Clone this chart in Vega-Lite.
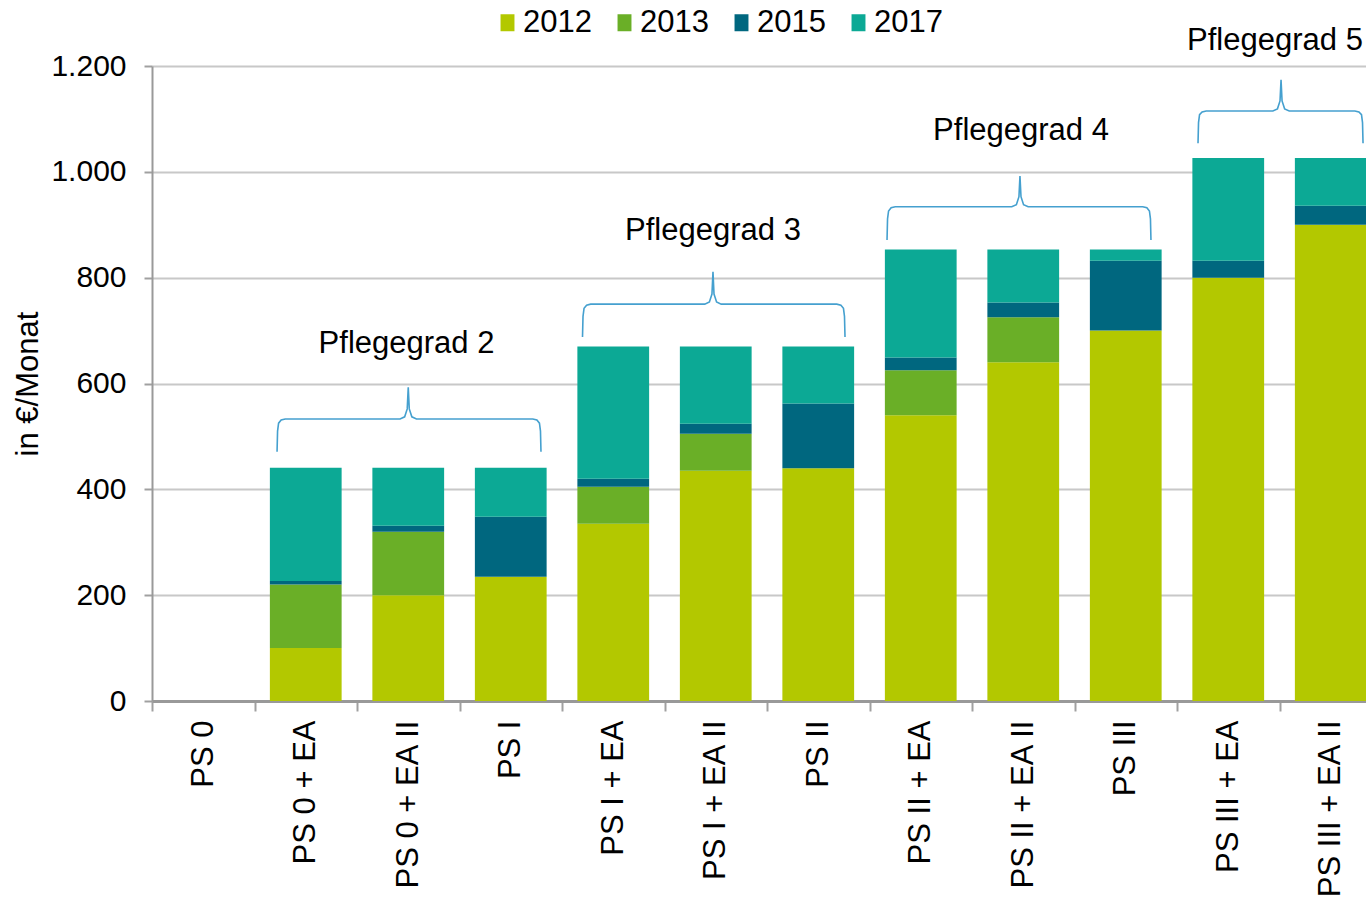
{
  "$schema": "https://vega.github.io/schema/vega-lite/v6.json",
  "width": 1214,
  "height": 635,
  "autosize": {"type": "none"},
  "padding": {"left": 152, "top": 66, "right": 0, "bottom": 196},
  "background": "white",
  "config": {"font": "Liberation Sans", "view": {"stroke": null}},
  "datasets": {
    "bars": [
      {"cat": "PS 0", "year": "2012", "value": 0}, {"cat": "PS 0", "year": "2013", "value": 0}, {"cat": "PS 0", "year": "2015", "value": 0}, {"cat": "PS 0", "year": "2017", "value": 0},
      {"cat": "PS 0 + EA", "year": "2012", "value": 100}, {"cat": "PS 0 + EA", "year": "2013", "value": 120}, {"cat": "PS 0 + EA", "year": "2015", "value": 7}, {"cat": "PS 0 + EA", "year": "2017", "value": 214},
      {"cat": "PS 0 + EA II", "year": "2012", "value": 200}, {"cat": "PS 0 + EA II", "year": "2013", "value": 120}, {"cat": "PS 0 + EA II", "year": "2015", "value": 11}, {"cat": "PS 0 + EA II", "year": "2017", "value": 110},
      {"cat": "PS I", "year": "2012", "value": 235}, {"cat": "PS I", "year": "2013", "value": 0}, {"cat": "PS I", "year": "2015", "value": 113}, {"cat": "PS I", "year": "2017", "value": 93},
      {"cat": "PS I + EA", "year": "2012", "value": 335}, {"cat": "PS I + EA", "year": "2013", "value": 70}, {"cat": "PS I + EA", "year": "2015", "value": 15}, {"cat": "PS I + EA", "year": "2017", "value": 250},
      {"cat": "PS I + EA II", "year": "2012", "value": 435}, {"cat": "PS I + EA II", "year": "2013", "value": 70}, {"cat": "PS I + EA II", "year": "2015", "value": 19}, {"cat": "PS I + EA II", "year": "2017", "value": 146},
      {"cat": "PS II", "year": "2012", "value": 440}, {"cat": "PS II", "year": "2013", "value": 0}, {"cat": "PS II", "year": "2015", "value": 122}, {"cat": "PS II", "year": "2017", "value": 108},
      {"cat": "PS II + EA", "year": "2012", "value": 540}, {"cat": "PS II + EA", "year": "2013", "value": 85}, {"cat": "PS II + EA", "year": "2015", "value": 24}, {"cat": "PS II + EA", "year": "2017", "value": 204},
      {"cat": "PS II + EA II", "year": "2012", "value": 640}, {"cat": "PS II + EA II", "year": "2013", "value": 85}, {"cat": "PS II + EA II", "year": "2015", "value": 28}, {"cat": "PS II + EA II", "year": "2017", "value": 100},
      {"cat": "PS III", "year": "2012", "value": 700}, {"cat": "PS III", "year": "2013", "value": 0}, {"cat": "PS III", "year": "2015", "value": 132}, {"cat": "PS III", "year": "2017", "value": 21},
      {"cat": "PS III + EA", "year": "2012", "value": 800}, {"cat": "PS III + EA", "year": "2013", "value": 0}, {"cat": "PS III + EA", "year": "2015", "value": 32}, {"cat": "PS III + EA", "year": "2017", "value": 194},
      {"cat": "PS III + EA II", "year": "2012", "value": 900}, {"cat": "PS III + EA II", "year": "2013", "value": 0}, {"cat": "PS III + EA II", "year": "2015", "value": 36}, {"cat": "PS III + EA II", "year": "2017", "value": 90}
    ],
    "braces": [
      {"g": 2, "i": 1, "x": 1.22, "value": 471}, {"g": 2, "i": 2, "x": 1.225, "value": 510}, {"g": 2, "i": 3, "x": 1.235, "value": 525}, {"g": 2, "i": 4, "x": 1.26, "value": 531}, {"g": 2, "i": 5, "x": 1.3, "value": 533}, {"g": 2, "i": 6, "x": 2.42, "value": 533}, {"g": 2, "i": 7, "x": 2.465, "value": 537}, {"g": 2, "i": 8, "x": 2.49, "value": 552}, {"g": 2, "i": 9, "x": 2.5, "value": 593}, {"g": 2, "i": 10, "x": 2.51, "value": 552}, {"g": 2, "i": 11, "x": 2.535, "value": 537}, {"g": 2, "i": 12, "x": 2.58, "value": 533}, {"g": 2, "i": 13, "x": 3.715, "value": 533}, {"g": 2, "i": 14, "x": 3.755, "value": 531}, {"g": 2, "i": 15, "x": 3.78, "value": 525}, {"g": 2, "i": 16, "x": 3.79, "value": 510}, {"g": 2, "i": 17, "x": 3.795, "value": 471},
      {"g": 3, "i": 1, "x": 4.2, "value": 688}, {"g": 3, "i": 2, "x": 4.205, "value": 727}, {"g": 3, "i": 3, "x": 4.215, "value": 742}, {"g": 3, "i": 4, "x": 4.24, "value": 748}, {"g": 3, "i": 5, "x": 4.28, "value": 750}, {"g": 3, "i": 6, "x": 5.393, "value": 750}, {"g": 3, "i": 7, "x": 5.438, "value": 754}, {"g": 3, "i": 8, "x": 5.463, "value": 769}, {"g": 3, "i": 9, "x": 5.473, "value": 811}, {"g": 3, "i": 10, "x": 5.483, "value": 769}, {"g": 3, "i": 11, "x": 5.508, "value": 754}, {"g": 3, "i": 12, "x": 5.553, "value": 750}, {"g": 3, "i": 13, "x": 6.681, "value": 750}, {"g": 3, "i": 14, "x": 6.721, "value": 748}, {"g": 3, "i": 15, "x": 6.746, "value": 742}, {"g": 3, "i": 16, "x": 6.756, "value": 727}, {"g": 3, "i": 17, "x": 6.761, "value": 688},
      {"g": 4, "i": 1, "x": 7.171, "value": 871}, {"g": 4, "i": 2, "x": 7.176, "value": 911}, {"g": 4, "i": 3, "x": 7.186, "value": 926}, {"g": 4, "i": 4, "x": 7.211, "value": 932}, {"g": 4, "i": 5, "x": 7.251, "value": 934}, {"g": 4, "i": 6, "x": 8.388, "value": 934}, {"g": 4, "i": 7, "x": 8.433, "value": 938}, {"g": 4, "i": 8, "x": 8.458, "value": 953}, {"g": 4, "i": 9, "x": 8.468, "value": 992}, {"g": 4, "i": 10, "x": 8.478, "value": 953}, {"g": 4, "i": 11, "x": 8.503, "value": 938}, {"g": 4, "i": 12, "x": 8.548, "value": 934}, {"g": 4, "i": 13, "x": 9.666, "value": 934}, {"g": 4, "i": 14, "x": 9.706, "value": 932}, {"g": 4, "i": 15, "x": 9.731, "value": 926}, {"g": 4, "i": 16, "x": 9.741, "value": 911}, {"g": 4, "i": 17, "x": 9.746, "value": 871},
      {"g": 5, "i": 1, "x": 10.205, "value": 1054}, {"g": 5, "i": 2, "x": 10.21, "value": 1093}, {"g": 5, "i": 3, "x": 10.22, "value": 1108}, {"g": 5, "i": 4, "x": 10.245, "value": 1113}, {"g": 5, "i": 5, "x": 10.285, "value": 1115}, {"g": 5, "i": 6, "x": 10.935, "value": 1115}, {"g": 5, "i": 7, "x": 10.98, "value": 1119}, {"g": 5, "i": 8, "x": 11.005, "value": 1134}, {"g": 5, "i": 9, "x": 11.015, "value": 1174}, {"g": 5, "i": 10, "x": 11.025, "value": 1134}, {"g": 5, "i": 11, "x": 11.05, "value": 1119}, {"g": 5, "i": 12, "x": 11.095, "value": 1115}, {"g": 5, "i": 13, "x": 11.735, "value": 1115}, {"g": 5, "i": 14, "x": 11.775, "value": 1113}, {"g": 5, "i": 15, "x": 11.8, "value": 1108}, {"g": 5, "i": 16, "x": 11.81, "value": 1093}, {"g": 5, "i": 17, "x": 11.815, "value": 1054}
    ],
    "labels": [
      {"label": "Pflegegrad 2", "x": 2.483, "value": 658},
      {"label": "Pflegegrad 3", "x": 5.473, "value": 871},
      {"label": "Pflegegrad 4", "x": 8.478, "value": 1060},
      {"label": "Pflegegrad 5", "x": 10.956, "value": 1230}
    ]
  },
  "layer": [
    {
      "data": {"name": "bars"},
      "mark": {"type": "bar"},
      "encoding": {
        "x": {
          "field": "cat", "type": "nominal", "sort": null,
          "scale": {"range": [0, 1230], "paddingInner": 0.3, "paddingOuter": 0.15},
          "axis": {
            "title": null, "labelAngle": 270, "labelAlign": "right", "labelBaseline": "middle",
            "labelFontSize": 31, "labelColor": "#000000", "labelPadding": 9, "labelLimit": 400, "labelOverlap": false,
            "tickSize": 10, "tickColor": "#a0a0a0", "tickWidth": 2, "tickOffset": -51.25, "labelOffset": 51.25,
            "domainColor": "#999999", "domainWidth": 3, "grid": false
          }
        },
        "y": {
          "field": "value", "type": "quantitative", "stack": "zero",
          "scale": {"domain": [0, 1200], "nice": false},
          "axis": {
            "title": "in €/Monat", "titleFontSize": 31, "titleFontWeight": "normal", "titleColor": "#000000",
            "titleX": -124, "titleY": 317.5, "titleAngle": 270, "titleAlign": "center", "titleBaseline": "middle",
            "values": [0, 200, 400, 600, 800, 1000, 1200],
            "labelExpr": "replace(format(datum.value, ','), ',', '.')",
            "labelFontSize": 30, "labelColor": "#000000", "labelPadding": 18,
            "tickSize": 8, "tickColor": "#a0a0a0", "tickWidth": 2,
            "domainColor": "#999999", "domainWidth": 2,
            "grid": true, "gridColor": "#c8c8c8", "gridWidth": 2
          }
        },
        "color": {
          "field": "year", "type": "nominal",
          "scale": {"domain": ["2012", "2013", "2015", "2017"], "range": ["#b3c800", "#6aaf27", "#00677f", "#0ca995"]},
          "legend": {
            "orient": "none", "direction": "horizontal", "legendX": 340, "legendY": -59, "title": null,
            "symbolType": "M-0.82,-1H0.82V1H-0.82Z", "symbolSize": 289, "symbolStrokeWidth": 0, "symbolOpacity": 1,
            "labelFontSize": 31, "labelColor": "#000000", "labelOffset": 0, "columnPadding": 17, "padding": 0
          }
        },
        "order": {"field": "year", "sort": "ascending"}
      }
    },
    {
      "data": {"name": "braces"},
      "mark": {"type": "line", "color": "#45a0cf", "strokeWidth": 1.6},
      "encoding": {
        "x": {"field": "x", "type": "quantitative", "scale": {"domain": [0, 12], "range": [0, 1230], "nice": false, "zero": false}, "axis": null},
        "y": {"field": "value", "type": "quantitative"},
        "detail": {"field": "g", "type": "nominal"},
        "order": {"field": "i", "type": "quantitative"}
      }
    },
    {
      "data": {"name": "labels"},
      "mark": {"type": "text", "fontSize": 31, "color": "#000000", "align": "center", "baseline": "alphabetic"},
      "encoding": {
        "x": {"field": "x", "type": "quantitative", "scale": {"domain": [0, 12], "range": [0, 1230], "nice": false, "zero": false}, "axis": null},
        "y": {"field": "value", "type": "quantitative"},
        "text": {"field": "label", "type": "nominal"}
      }
    }
  ],
  "resolve": {"scale": {"x": "independent"}}
}
